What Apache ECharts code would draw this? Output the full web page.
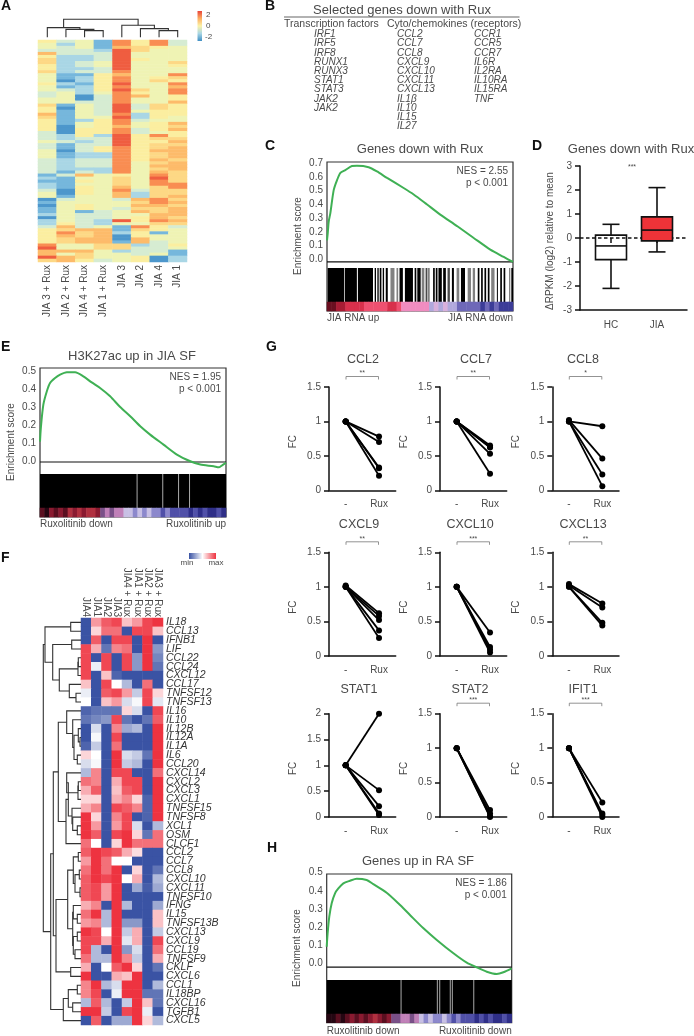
<!DOCTYPE html>
<html><head><meta charset="utf-8">
<style>html,body{margin:0;padding:0;background:#fff}#c{width:694px;height:1036px;filter:blur(0.4px)}</style>
<script src="https://cdn.jsdelivr.net/npm/echarts@6/dist/echarts.min.js"></script>
</head><body><div id="c"></div>
<script>
// ---------- DATA ----------
const heatACols = ['JIA 3 + Rux','JIA 2 + Rux','JIA 4 + Rux','JIA 1 + Rux','JIA 3','JIA 2','JIA 4','JIA 1'];
const heatARows = ['53418583','42418583','43417654','33329644','73339444','52239444','62239544','62349446','52349445','52239444','62338444',
'41157448','41258456','40258465','52159448','41258447','43259648','34248548','34038745','44038445','44338447','61439365','50439365',
'51439455','71438255','61449254','51258344','51458457','50457456','50558357','30558345','32529585','32339566','43239557','31339566',
'31358567','40358577','41228567','41228567','32338576','32338467','32338477','32228467','31328476','13745486','21446496','11546486',
'21446488','21547468','30548366','40547266','41447267','03443786','14444687','04544776','14543667','14134767','24334477','04334576',
'24329587','25324466','37341853','56771654','58672514','57670544','56770744','56771734','84466235','94466334','77742331','74644341',
'97644502','67534502'];
const treeA = [1, [0.54, 0, [0.44, 1, [0.37, 2, 3]]], [0.67, 4, [0.48, 5, [0.37, 6, 7]]]];
const colsF = ['JIA4','JIA1','JIA2','JIA3','JIA4 + Rux','JIA1 + Rux','JIA2 + Rux','JIA3 + Rux'];
const genesF = ['IL18','CCL13','IFNB1','LIF','CCL22','CCL24','CXCL12','CCL17','TNFSF12','TNFSF13','IL16','IL10','IL12B','IL12A','IL1A','IL6','CCL20','CXCL14','CXCL2','CXCL3','CXCL1','TNFSF15','TNFSF8','XCL1','OSM','CLCF1','CCL2','CCL7','CCL8','CXCL10','CXCL11','TNFSF10','IFNG','IL15','TNFSF13B','CXCL13','CXCL9','CCL19','TNFSF9','CKLF','CXCL6','CCL1','IL18BP','CXCL16','TGFB1','CXCL5'];
const heatF = [
[0,7.5,9,9.5,6.5,7.5,9.5,10],[0,6,8.5,8.5,0,9.5,9.5,6.5],[0,9,0,9.5,9.5,0,10,0],[9.5,7,1,8,8.5,0,10,2],
[9.5,0,9.5,0,9.5,2,10,1.5],[9.5,4.5,9.5,0,9.5,2,10,1],[9.5,0,6.5,0.5,0,0,0,0],[6.5,0,9.5,5,3,0,8.5,0],
[4.5,0,9,9.5,7.5,3.5,9.5,6],[5,0,6.5,7.5,4,4.8,9.5,4.3],[0.5,1,1,1,6,4,0,9.5],[1,1.5,2,9.5,1,0,1,9],
[0,4,0,8,2.5,3,0,10],[0,4.8,0,9.5,0,0,0,10],[0.5,3.5,0,8.5,0,0,0,10],[6,5,0,10,4,3.5,1,10],[4,4.8,0,10,3.5,3,0,10],
[3,8,0,9.5,9.5,0,0,8.5],[8.5,8,0,7,9.5,9.5,0,10],[7,9,0,6.5,9,9.5,0,10],[6,6,0,7,8,6,0.5,10],[7,8,0,9.5,9,8,0.5,10],
[10,6,0,8,9.5,0,0.5,10],[10,7.5,0,7.5,9.5,4,0,3],[10,9,0,9.5,10,6,1,8.5],[8.5,5,0,6,10,8.5,8.5,8.5],
[9,10,9.5,9,7,5.8,0,0],[7.5,10,8.5,5,5,0,0,0],[8.5,10,8.5,10,0,6,0,1],[9,10,9.5,10,5,7,0,3],[9,9.5,7.5,10,0,2.5,0.3,2.5],
[9,9.5,7.5,10,0,0,0,0],[7,8,0,10,3,0,0,2.5],[8.5,10,3,10,0,0,0,6.5],[7.5,8,3,10,2,2,0,6.5],[10,9.5,5,10,3.5,7,0,3.5],
[9.5,9.5,7,10,4.3,7,0,9.5],[9.5,3,0,10,2,4,0,8.5],[8.5,3,3,10,8,3.5,0,7],[7,0,5,9,10,6,0,1],[10,0,0,7,6.5,10,0,0],
[8,10,3,4,10,10,0,3],[8,9.5,0,4.5,10,10,1,1],[3,9,3,0,3.5,10,6.5,1],[10,10,3.5,0,9.5,10,4.5,0],[0,9,0,2.5,2.5,10,6,3]];
const treeF = [37.7,
  [36,[10.3,0,1],[28.3,[9.3,2,3],[21.7,[3,[2.7,4,5],6],[11.7,7,[5,8,9]]]]],
  [30.3,
    [27.7,
      [22.7,[14.3,10,[8.3,11,[7,[2.7,12,[1,13,14]],[3.7,15,16]]]],
            [15,[12.7,[14.3,17,[3,[2.7,18,19],20]],[9,21,[8.3,22,[3.7,23,24]]]],25]],
      [25,[13.3,
            [7.7,[2.7,26,27],[6,[1.7,28,29],[1,30,31]]],
            [8.3,[7.7,32,[3.7,33,34]],[7.7,[3.7,35,36],[6,37,38]]]],
          [10.3,39,40]]],
    [17.7,[12.7,[3.7,41,42],[8.3,43,44]],45]]];
const curveC = [[0,0.15],[0.4,0.2],[0.9,0.28],[1.8,0.34],[3.6,0.5],[5.4,0.57],[7.2,0.62],[9.9,0.64],[13.4,0.668],[16.1,0.67],[22.4,0.66],[26.9,0.63],[32.3,0.585],[41.2,0.515],[46.6,0.47],[53.8,0.40],[60.9,0.33],[69.9,0.25],[78.9,0.167],[87.8,0.086],[95,0.035],[100,0]];
const curveE = [[0,0.11],[0.5,0.19],[1.8,0.31],[3.6,0.38],[5.4,0.427],[8.1,0.454],[10.8,0.472],[14.4,0.485],[18.9,0.485],[23.3,0.463],[27.8,0.43],[32.3,0.4],[37.7,0.355],[43.1,0.297],[48.5,0.247],[53.9,0.193],[59.2,0.148],[66.4,0.094],[73.6,0.04],[80.8,0.004],[86.2,-0.014],[93.4,-0.023],[96.1,-0.029],[97.9,-0.018],[100,-0.005]];
const curveH = [[0,0.108],[0.5,0.179],[1.4,0.268],[2.7,0.339],[4.5,0.392],[6.3,0.418],[9,0.445],[12.6,0.459],[16.2,0.47],[21.6,0.463],[25.2,0.441],[32.4,0.395],[38.7,0.339],[45,0.277],[52.3,0.206],[59.5,0.144],[68.5,0.073],[75.7,0.023],[81.1,-0.002],[86.5,-0.025],[91.9,-0.037],[95.5,-0.028],[100,-0.007]];
// barcode of C: hit runs [from, to, shade] on the rank axis 6..560
const hitsC = [[8,57,0],[59,95,0],[98,143,0],[148,152,0],[156,160,0],[163,168,0],[172,176,0],[181,187,0],[195,207,.5],[213,218,.5],[222,232,0],[238,262,0],[267,272,0],[275,285,0],[288,296,.5],[300,303,0],[305,312,.5],[322,327,0],[330,335,0],[338,348,0],[352,360,0],[365,372,.3],[378,384,0],[392,400,.5],[405,417,0],[425,435,.5],[440,447,.5],[455,460,0],[465,470,0],[475,480,0],[485,490,0],[495,505,.5],[512,515,0],[522,527,0],[532,537,0],[548,552,.5],[555,560,0]];
const hitsE = [[0,100,0]];
const gapsE = [52.2,66,74.5,80.4];
const gapsH = [40.2,59.8,61.1,66.8,67.9,79.5];
const stripC = [1,1,2,2,3,3,3,3,4,4,4,4,4,3,3,4,5,5,5,5,5,5,7,6,7,6,7,7,8,8,8,8,8,9,8,9,8,9,9,9];
const stripE = [1,0,2,1,2,1,3,2,3,2,3,3,2,4,5,4,5,5,6,6,7,6,7,6,7,7,8,7,8,8,8,8,9,8,9,8,9,9,8,9];
const stripH = [0,0,1,0,1,2,1,2,1,2,3,2,1,2,4,4,5,5,4,5,6,7,6,7,7,6,7,8,7,8,8,8,9,8,9,8,9,9,8,9];
const boxCats = ['HC','JIA'];
const boxHC = [-2.1,-0.9,-0.33,0.12,0.57];
const boxJIA = [-0.58,-0.12,0.33,0.88,2.1];
const fcCCL2 = [[1,.78],[1,.70],[1,.33],[1,.32],[1,.21]];
const fcCCL7 = [[1,.65],[1,.63],[1,.62],[1,.53],[1,.24]];
const fcCCL8 = [[1,.93],[1.02,.46],[1,.23],[1,.06]];
const fcCXCL9 = [[1.02,.62],[1,.58],[1,.52],[1,.37],[1,.26]];
const fcCXCL10 = [[1,.34],[1,.13],[1,.09],[1,.05]];
const fcCXCL13 = [[1.04,.76],[1.02,.70],[1,.48],[1,.44]];
const fcSTAT1 = [[1,2],[1,.52],[1,.21],[1,.07],[1,.04]];
const fcSTAT2 = [[1,.1],[1,.05],[1,.01],[1,0]];
const fcIFIT1 = [[1,.21],[1,.05],[1,.03],[1,0]];
const fcCats = ['-','Rux'];
const tfGenes = ['IRF1','IRF5','IRF8','RUNX1','RUNX3','STAT1','STAT3','JAK2','JAK2'];
const cytoGenes = ['CCL2','CCL7','CCL8','CXCL9','CXCL10','CXCL11','CXCL13','IL1β','IL10','IL15','IL27'];
const recGenes = ['CCR1','CCR5','CCR7','IL6R','IL2RA','IL10RA','IL15RA','TNF'];

// ---------- BUILD ----------
const FONT = '"Liberation Sans", Arial, sans-serif';
const GRAY = '#4a4a4a';
const grid = [], xAxis = [], yAxis = [], series = [], graphic = [], visualMap = [];
const hidden = {show:false};
function addGrid(g, x, y){
  grid.push(Object.assign({containLabel:false}, g));
  const i = grid.length-1;
  xAxis.push(Object.assign({gridIndex:i}, x));
  yAxis.push(Object.assign({gridIndex:i}, y));
  return i;
}
function txt(text,x,y,size,o){
  o = o||{};
  graphic.push({type:'text',x:x,y:y,rotation:o.rot||0,z:50,silent:true,style:{text:text,x:0,y:0,
    font:(o.italic?'italic ':'')+(o.bold?'bold ':'')+size+'px '+FONT,fill:o.fill||GRAY,
    textAlign:o.align||'left',textVerticalAlign:'middle'}});
}
function line(points,color,w){
  graphic.push({type:'polyline',z:50,silent:true,shape:{points:points},style:{stroke:color,lineWidth:w,fill:null}});
}
// dendrogram segments from a nested tree
function treeSegs(tree){
  const segs=[];
  (function walk(n){
    if(typeof n==='number') return [n,0];
    const a=walk(n[1]), b=walk(n[2]);
    segs.push([a[0],a[1],b[0],b[1],n[0]]);
    return [(a[0]+b[0])/2,n[0]];
  })(tree);
  return segs;
}
function dendro(g,segs,horizontal){
  series.push({type:'custom',xAxisIndex:g,yAxisIndex:g,clip:false,silent:true,data:segs,
    renderItem:function(p,api){
      const a=api.value(0),ha=api.value(1),b=api.value(2),hb=api.value(3),h=api.value(4);
      const pt=(pos,ht)=>horizontal?api.coord([ht,pos]):api.coord([pos,ht]);
      return {type:'polyline',shape:{points:[pt(a,ha),pt(a,h),pt(b,h),pt(b,hb)]},style:{stroke:'#333',lineWidth:1.1,fill:null}};
    }});
}

// ---- Panel A
{
  const g = addGrid({left:38,top:40,width:149,height:222},
    {type:'category',data:heatACols,axisLine:hidden,axisTick:hidden,splitArea:hidden,
     axisLabel:{interval:0,rotate:90,fontSize:10,color:GRAY,fontFamily:FONT,margin:3}},
    {type:'category',inverse:true,data:heatARows.map((_,i)=>i),show:false});
  const d=[]; heatARows.forEach((r,i)=>[...r].forEach((c,j)=>d.push([j,i,+c])));
  visualMap.push({show:false,seriesIndex:series.length,min:0,max:9,
    inRange:{color:['#4d97cc','#76b7dc','#a9d6e5','#d6ecd2','#eff3b4','#fbeea0','#fdd885','#fdbb6a','#f98d52','#ef5d40']}});
  series.push({type:'heatmap',xAxisIndex:g,yAxisIndex:g,data:d,progressive:0,silent:true,emphasis:{disabled:true}});
  const gd = addGrid({left:38,top:19.3,width:149,height:18},
    {type:'value',min:-0.5,max:7.5,show:false},{type:'value',min:0,max:1,show:false});
  const segs = treeSegs(treeA);
  dendro(gd,segs,false);
  graphic.push({type:'rect',z:50,silent:true,shape:{x:197.5,y:11,width:4.5,height:30},style:{fill:new echarts.graphic.LinearGradient(0,0,0,1,[
    {offset:0,color:'#e8443a'},{offset:.25,color:'#fdae61'},{offset:.5,color:'#fbf3a8'},{offset:.75,color:'#a9d6e5'},{offset:1,color:'#3f8fc4'}])}});
  txt('2',206,15,8); txt('0',206,26,8); txt('-2',205,37,8);
}
txt('A',1,6,14,{bold:true,fill:'#111'});

// ---- Panel B
txt('B',265,6,14,{bold:true,fill:'#111'});
txt('Selected genes down with Rux',402,10,13,{align:'center'});
line([[284,17],[519.5,17]],'#666',1.2);
txt('Transcription factors',284,24.5,10.5);
txt('Cyto/chemokines (receptors)',387,24.5,10.5);
[[tfGenes,314],[cytoGenes,397],[recGenes,474]].forEach(function(c){
  c[0].forEach((t,i)=>txt(t,c[1],34.3+i*9.22,10,{italic:true}));
});

// ---- GSEA panels
const rampC = ['#2a0510','#6a0f20','#a81c34','#d8304c','#ee5070','#f08cc0','#d8b0dc','#b0a8dc','#6e68b8','#3c3c98'];
const rampE = ['#250612','#5a0f20','#8a1a30','#b0303f','#7a5088','#c080b8','#c8c0e4','#8c88cc','#5050a8','#2f2f88'];
function gsea(o){
  const W=o.right-o.left;
  // frame
  addGrid({show:true,left:o.left,top:o.top,width:W,height:o.bottom-o.top,borderColor:'#333',borderWidth:1.2,backgroundColor:'transparent'},
    {type:'value',show:false},{type:'value',show:false});
  // tick labels
  addGrid({left:o.left,top:o.labTop,width:W,height:o.labBot-o.labTop},
    {type:'value',min:0,max:100,show:false},
    {type:'value',min:0,max:o.labMax,interval:0.1,axisLine:hidden,axisTick:hidden,splitLine:hidden,
     axisLabel:{formatter:v=>v.toFixed(1),fontSize:10,color:GRAY,fontFamily:FONT,margin:4}});
  // curve
  const g=addGrid({left:o.left,top:o.top,width:W,height:o.barTop-o.top},
    {type:'value',min:0,max:100,show:false},{type:'value',min:o.yMin,max:o.yMax,show:false});
  series.push({type:'line',xAxisIndex:g,yAxisIndex:g,data:[[0,0],[100,0]],symbol:'none',silent:true,lineStyle:{color:'#111',width:1.2}});
  series.push({type:'line',xAxisIndex:g,yAxisIndex:g,data:o.curve,symbol:'none',smooth:0.25,clip:false,silent:true,lineStyle:{color:'#3fb054',width:2}});
  // barcode
  const gb=addGrid({left:o.left,top:o.barTop,width:W,height:o.stripTop-o.barTop},
    {type:'value',min:o.hitMin,max:o.hitMax,show:false},{type:'value',min:0,max:1,show:false});
  series.push({type:'custom',xAxisIndex:gb,yAxisIndex:gb,silent:true,data:o.hits,renderItem:function(p,api){
    const a=api.coord([api.value(0),1]),b=api.coord([api.value(1),0]),s=api.value(2);
    const c=Math.round(s*255);
    return {type:'rect',shape:{x:a[0],y:a[1],width:b[0]-a[0],height:b[1]-a[1]},style:{fill:'rgb('+c+','+c+','+c+')'}};
  }});
  if(o.gaps){
    series.push({type:'custom',xAxisIndex:gb,yAxisIndex:gb,silent:true,data:o.gaps.map(v=>[v]),renderItem:function(p,api){
      const a=api.coord([api.value(0),1]),b=api.coord([api.value(0),0]);
      return {type:'line',shape:{x1:a[0],y1:a[1],x2:b[0],y2:b[1]},style:{stroke:'#aaa',lineWidth:1}};
    }});
  }
  // rank colour strip
  const gs=addGrid({left:o.left,top:o.stripTop,width:W,height:o.bottom-o.stripTop},
    {type:'category',data:o.strip.map((_,i)=>i),show:false},{type:'category',data:['r'],show:false});
  visualMap.push({show:false,seriesIndex:series.length,min:0,max:9,inRange:{color:o.ramp}});
  series.push({type:'heatmap',xAxisIndex:gs,yAxisIndex:gs,progressive:0,silent:true,emphasis:{disabled:true},data:o.strip.map((v,i)=>[i,0,v])});
  txt(o.title,o.titleX,o.titleY,13,{align:'center'});
  txt('Enrichment score',o.left-29,o.barTop-32,10,{rot:Math.PI/2,align:'center'});
  txt(o.nes,o.right-5,o.top+9,10,{align:'right'});
  txt('p < 0.001',o.right-5,o.top+21.5,10,{align:'right'});
  txt(o.lowL,o.left,o.bottom+o.lowDy,10);
  txt(o.lowR,o.right,o.bottom+o.lowDy,10,{align:'right'});
}
gsea({left:327,right:513,top:162,barTop:268,stripTop:302,bottom:311,labTop:163,labBot:259.5,labMax:.7,lowDy:7,
  yMin:-0.042,yMax:0.696,curve:curveC,hits:hitsC,hitMin:6,hitMax:560,strip:stripC,ramp:rampC,
  title:'Genes down with Rux',titleX:420,titleY:149,nes:'NES = 2.55',lowL:'JIA RNA up',lowR:'JIA RNA down'});
gsea({left:40,right:226,top:368,barTop:474,stripTop:508,bottom:517,labTop:371,labBot:461,labMax:.5,lowDy:7.5,
  yMin:-0.065,yMax:0.508,curve:curveE,hits:hitsE,hitMin:0,hitMax:100,gaps:gapsE,strip:stripE,ramp:rampE,
  title:'H3K27ac up in JIA SF',titleX:132,titleY:356,nes:'NES = 1.95',lowL:'Ruxolitinib down',lowR:'Ruxolitinib up'});
gsea({left:326.7,right:511.7,top:874,barTop:980,stripTop:1014,bottom:1022.7,labTop:872.7,labBot:963.7,labMax:.5,lowDy:9,
  yMin:-0.069,yMax:0.495,curve:curveH,hits:hitsE,hitMin:0,hitMax:100,gaps:gapsH,strip:stripH,ramp:rampE,
  title:'Genes up in RA SF',titleX:418,titleY:861,nes:'NES = 1.86',lowL:'Ruxolitinib down',lowR:'Ruxolitinib down'});
txt('C',265,146,14,{bold:true,fill:'#111'});
txt('E',1,347,14,{bold:true,fill:'#111'});
txt('H',267,848,14,{bold:true,fill:'#111'});

// ---- Panel D
{
  const g=addGrid({left:580,top:166,width:107,height:144},
    {type:'value',min:0,max:1,position:'bottom',axisLine:{onZero:false,lineStyle:{color:'#111',width:1.5}},axisTick:hidden,axisLabel:hidden,splitLine:hidden},
    {type:'value',min:-3,max:3,interval:1,axisLine:{show:true,onZero:false,lineStyle:{color:'#111',width:1.5}},axisTick:{show:true,length:5,lineStyle:{color:'#111',width:1.5}},splitLine:hidden,
     axisLabel:{fontSize:10,color:GRAY,fontFamily:FONT,margin:8}});
  series.push({type:'line',xAxisIndex:g,yAxisIndex:g,z:1,data:[[0,0],[1,0]],symbol:'none',silent:true,lineStyle:{color:'#111',width:1.6,type:[3.5,2.5]}});
  const gb=addGrid({left:588,top:166,width:92,height:144},
    {type:'category',data:boxCats,axisLine:{show:false},axisTick:{show:true,alignWithLabel:true,length:5,lineStyle:{color:'#111',width:1.5}},
     axisLabel:{fontSize:10,color:GRAY,fontFamily:FONT,margin:10}},
    {type:'value',min:-3,max:3,show:false});
  const fills=['rgba(0,0,0,0)','#ee3338'];
  series.push({type:'custom',xAxisIndex:gb,yAxisIndex:gb,z:3,silent:true,
    data:[[0].concat(boxHC),[1].concat(boxJIA)],
    renderItem:function(p,api){
      const i=api.value(0), at=v=>api.coord([i,v]);
      const lo=at(api.value(1)),q1=at(api.value(2)),med=at(api.value(3)),q3=at(api.value(4)),hi=at(api.value(5));
      const x=lo[0], hb=15.5, hc=8.5, st={stroke:'#111',lineWidth:1.6,fill:null};
      return {type:'group',children:[
        {type:'line',shape:{x1:x,y1:lo[1],x2:x,y2:q1[1]},style:st},
        {type:'line',shape:{x1:x,y1:q3[1],x2:x,y2:hi[1]},style:st},
        {type:'line',shape:{x1:x-hc,y1:lo[1],x2:x+hc,y2:lo[1]},style:st},
        {type:'line',shape:{x1:x-hc,y1:hi[1],x2:x+hc,y2:hi[1]},style:st},
        {type:'rect',shape:{x:x-hb,y:q3[1],width:2*hb,height:q1[1]-q3[1]},style:{stroke:'#111',lineWidth:1.6,fill:fills[i]}},
        {type:'line',shape:{x1:x-hb,y1:med[1],x2:x+hb,y2:med[1]},style:st}
      ]};
    }});
  txt('D',532,146,14,{bold:true,fill:'#111'});
  txt('Genes down with Rux',631,149,13,{align:'center'});
  txt('ΔRPKM (log2) relative to mean',550,241,10,{rot:Math.PI/2,align:'center'});
  txt('***',632,167,7,{align:'center'});
}

// ---- Panel F
{
  const g=addGrid({left:81,top:618,width:82,height:407},
    {type:'category',position:'top',data:colsF,axisLine:hidden,axisTick:hidden,
     axisLabel:{interval:0,rotate:90,fontSize:10,color:GRAY,fontFamily:FONT,margin:1}},
    {type:'category',position:'right',inverse:true,data:genesF,axisLine:hidden,axisTick:hidden,
     axisLabel:{interval:0,fontSize:10.5,fontStyle:'italic',color:'#333',fontFamily:FONT,margin:3}});
  const d=[]; heatF.forEach((r,i)=>r.forEach((v,j)=>d.push([j,i,v])));
  visualMap.push({show:false,seriesIndex:series.length,min:0,max:10,inRange:{color:['#3a53a4','#ffffff','#ee3340']}});
  series.push({type:'heatmap',xAxisIndex:g,yAxisIndex:g,data:d,progressive:0,silent:true,emphasis:{disabled:true}});
  const gd=addGrid({left:43,top:618,width:38,height:407},
    {type:'value',min:0,max:38,inverse:true,show:false},{type:'value',min:-0.5,max:45.5,inverse:true,show:false});
  dendro(gd,treeSegs(treeF),true);
  graphic.push({type:'rect',z:50,silent:true,shape:{x:189,y:553,width:27,height:6},style:{fill:new echarts.graphic.LinearGradient(0,0,1,0,[
    {offset:0,color:'#3a53a4'},{offset:.5,color:'#ffffff'},{offset:1,color:'#ee3340'}])}});
  txt('min',187,562.5,8,{align:'center'});
  txt('max',216,562.5,8,{align:'center'});
  txt('F',1,558,14,{bold:true,fill:'#111'});
}

// ---- Panel G
function fc(o){
  const g=addGrid({left:o.x,top:o.top,width:66.7,height:o.bot-o.top},
    {type:'category',data:fcCats,axisLine:{onZero:false,lineStyle:{color:'#111',width:1.5}},
     axisTick:{alignWithLabel:true,length:4,lineStyle:{color:'#111',width:1.5}},
     axisLabel:{interval:0,fontSize:10,color:GRAY,fontFamily:FONT,margin:9}},
    {type:'value',min:0,max:o.max||1.5,interval:.5,axisLine:{show:true,lineStyle:{color:'#111',width:1.5}},
     axisTick:{show:true,length:5,lineStyle:{color:'#111',width:1.5}},splitLine:hidden,
     axisLabel:{fontSize:10,color:GRAY,fontFamily:FONT,margin:8}});
  o.data.forEach(function(p){
    series.push({type:'line',xAxisIndex:g,yAxisIndex:g,data:p,symbol:'circle',symbolSize:6,clip:false,silent:true,
      itemStyle:{color:'#000'},lineStyle:{color:'#000',width:1.8}});
  });
  txt(o.name,o.tx,o.ty,12.5,{align:'center'});
  txt('FC',o.x-36,(o.top+o.bot)/2+3,10,{rot:Math.PI/2,align:'center'});
  if(o.sig){
    const bx1=o.x+17,bx2=o.x+49.5,by=o.top-10.5;
    line([[bx1,by+3],[bx1,by],[bx2,by],[bx2,by+3]],'#777',.8);
    txt(o.sig,(bx1+bx2)/2,by-3,7,{align:'center'});
  }
}
const colX=[329,440,552.3];
fc({name:'CCL2',data:fcCCL2,x:colX[0],top:387,bot:490.3,tx:363,ty:360,sig:'**'});
fc({name:'CCL7',data:fcCCL7,x:colX[1],top:387,bot:490.3,tx:476,ty:360,sig:'**'});
fc({name:'CCL8',data:fcCCL8,x:colX[2],top:387,bot:490.3,tx:583,ty:360,sig:'*'});
fc({name:'CXCL9',data:fcCXCL9,x:colX[0],top:552.3,bot:656,tx:359,ty:525,sig:'**'});
fc({name:'CXCL10',data:fcCXCL10,x:colX[1],top:552.3,bot:656,tx:470,ty:525,sig:'***'});
fc({name:'CXCL13',data:fcCXCL13,x:colX[2],top:552.3,bot:656,tx:583,ty:525,sig:'**'});
fc({name:'STAT1',data:fcSTAT1,x:colX[0],top:713.7,bot:817,tx:359,ty:690,max:2});
fc({name:'STAT2',data:fcSTAT2,x:colX[1],top:713.7,bot:817,tx:470,ty:690,sig:'***'});
fc({name:'IFIT1',data:fcIFIT1,x:colX[2],top:713.7,bot:817,tx:583,ty:690,sig:'***'});
txt('G',266,347,14,{bold:true,fill:'#111'});

const chart = echarts.init(document.getElementById('c'),null,{renderer:'canvas',width:694,height:1036});
chart.setOption({animation:false,backgroundColor:'#fff',textStyle:{fontFamily:FONT},tooltip:{show:false},
  grid:grid,xAxis:xAxis,yAxis:yAxis,series:series,visualMap:visualMap,graphic:{elements:graphic}});
</script></body></html>
